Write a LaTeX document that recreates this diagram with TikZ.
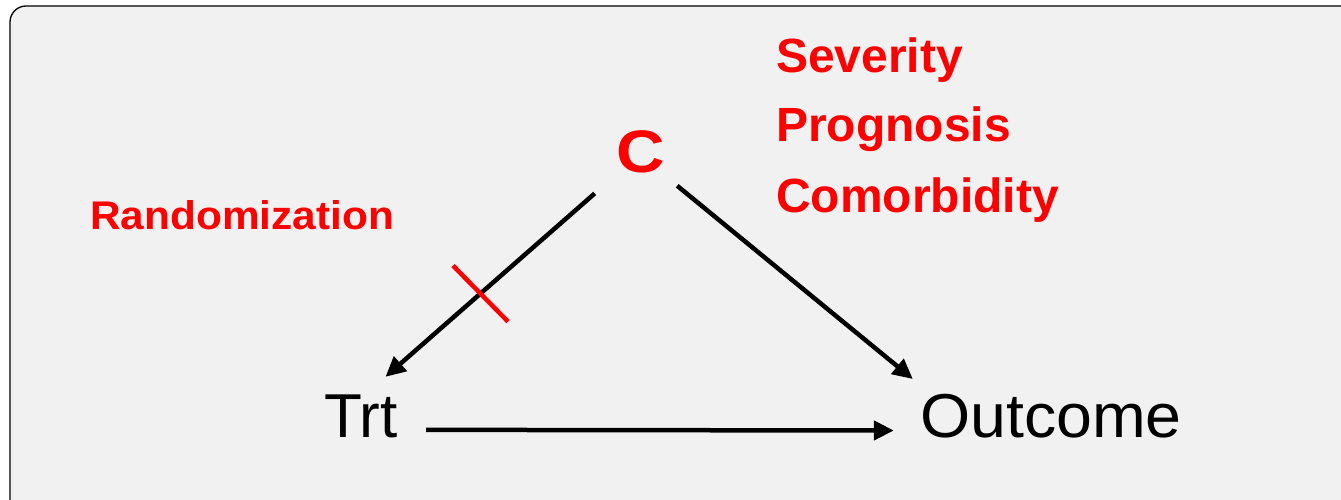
\documentclass[tikz,border=0pt]{standalone}
\usepackage{graphicx}
\usepackage{fontspec}
\setmainfont{Liberation Sans}
\usetikzlibrary{arrows.meta,calc}
\definecolor{panelbg}{RGB}{241,241,241}
\begin{document}
\begin{tikzpicture}[x=1pt,y=-1pt,
  redlbl/.style={text=red,font=\bfseries\fontsize{48}{56}\selectfont,inner sep=0pt,anchor=base west},
  blacklbl/.style={text=black,font=\fontsize{62}{70}\selectfont,inner sep=0pt},
  arr/.style={line width=4.5pt,-{Triangle[length=20pt,width=19pt]}},
  cutmark/.style={red,line width=4.5pt}]
\useasboundingbox (0,0) rectangle (1341,500);
\clip (0,0) rectangle (1341,500);
\draw[fill=panelbg,draw=black,line width=1.3pt,rounded corners=16pt] (10,6) rectangle (1372,522);
% labels
\node[redlbl] (sev) at (776,73) {Severity};
\node[redlbl] (prog) at (776,142) {Prognosis};
\node[redlbl] (com) at (776,212) {Comorbidity};
\node[redlbl,font=\bfseries\fontsize{40}{48}\selectfont] (rand) at (90,229) {\scalebox{1.06}[1]{Randomization}};
% variables
\node[text=red,font=\bfseries\fontsize{60}{66}\selectfont,inner sep=0pt,minimum width=72pt,minimum height=68pt] (C) at (641,152) {\raisebox{-3pt}{\scalebox{1.12}[1]{C}}};
\node[blacklbl,minimum width=130pt,minimum height=78pt] (Trt) at (361,416) {Trt};
\node[blacklbl,minimum width=276pt,minimum height=80pt] (Out) at (1051,416) {\scalebox{1.04}[1]{Outcome}};
% connectors
\draw[arr,shorten <=13.4pt] (C.222) -- (Trt.58);
\draw[arr] (C.317) -- (Out.165);
\draw[arr,shorten >=19pt] (Trt.348) -- (Out.186);
% randomization cut
\coordinate (cut) at ($(C.222)!0.567!(Trt.58)$);
\draw[cutmark] ($(cut)+(-27.5,-28)$) -- ($(cut)+(27.5,28)$);
\end{tikzpicture}
\end{document}
